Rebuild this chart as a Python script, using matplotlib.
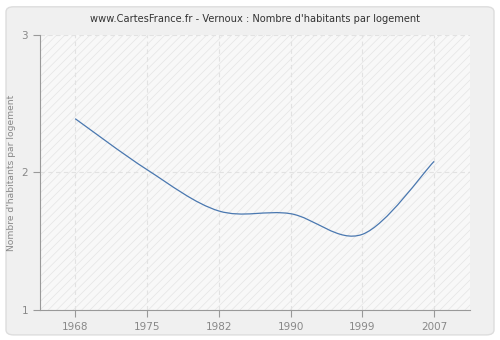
import matplotlib
matplotlib.use('Agg')
import matplotlib.pyplot as plt
from matplotlib.path import Path
from matplotlib.patches import PathPatch, FancyBboxPatch, Rectangle
import numpy as np

years = ['1968', '1975', '1982', '1990', '1999', '2007']
values = [2.39, 2.02, 1.72, 1.70, 1.55, 2.08]
yticks = [1, 2, 3]

plt.rcParams['hatch.color'] = '#e4e4e4'
plt.rcParams['hatch.linewidth'] = 0.5

fig = plt.figure(figsize=(5, 3.4), dpi=100)
fig.patch.set_facecolor('white')
fig.patches.append(FancyBboxPatch((0.012, 0.015), 0.976, 0.965,
                                  boxstyle='round,pad=0,rounding_size=0.015',
                                  transform=fig.transFigure, facecolor='#f0f0f0',
                                  edgecolor='#dddddd', linewidth=1, zorder=-10))

ax = fig.add_axes([0.08, 0.088, 0.86, 0.81])
ax.set_zorder(1)
ax.set_facecolor('#f8f8f8')
ax.set_xlim(-0.49, 5.5)
ax.set_ylim(1, 3)

# hatched background
ax.add_patch(Rectangle((0, 0), 1, 1, transform=ax.transAxes, facecolor='none',
                       edgecolor='#e4e4e4', hatch='////', linewidth=0, zorder=0))

# smooth curve through the points (Catmull-Rom as cubic bezier)
x = np.arange(len(years), dtype=float)
y = np.array(values)
verts = [(x[0], y[0])]
codes = [Path.MOVETO]
n = len(x)
for i in range(n - 1):
    p0 = (x[i - 1], y[i - 1]) if i > 0 else (x[i], y[i])
    p1 = (x[i], y[i])
    p2 = (x[i + 1], y[i + 1])
    p3 = (x[i + 2], y[i + 2]) if i + 2 < n else (x[i + 1], y[i + 1])
    c1 = (p1[0] + (p2[0] - p0[0]) / 6, p1[1] + (p2[1] - p0[1]) / 6)
    c2 = (p2[0] - (p3[0] - p1[0]) / 6, p2[1] - (p3[1] - p1[1]) / 6)
    verts += [c1, c2, p2]
    codes += [Path.CURVE4] * 3
ax.add_patch(PathPatch(Path(verts, codes), facecolor='none', edgecolor='#4a78b0',
                       linewidth=0.9, zorder=3))

ax.set_xticks(x)
ax.set_xticklabels(years)
ax.set_yticks(yticks)
ax.grid(True, color='#e2e2e2', linestyle=(0, (4, 3)), linewidth=0.8)
for s in ['top', 'right']:
    ax.spines[s].set_visible(False)
for s in ['left', 'bottom']:
    ax.spines[s].set_color('#999999')
ax.tick_params(colors='#999999', labelcolor='#888888', labelsize=7.5, length=5)
ax.set_ylabel("Nombre d'habitants par logement", color='#888888', fontsize=6.6)
ax.set_title("www.CartesFrance.fr - Vernoux : Nombre d'habitants par logement",
             fontsize=7.1, color='#333333', pad=9)

plt.savefig('out.png', dpi=100)
